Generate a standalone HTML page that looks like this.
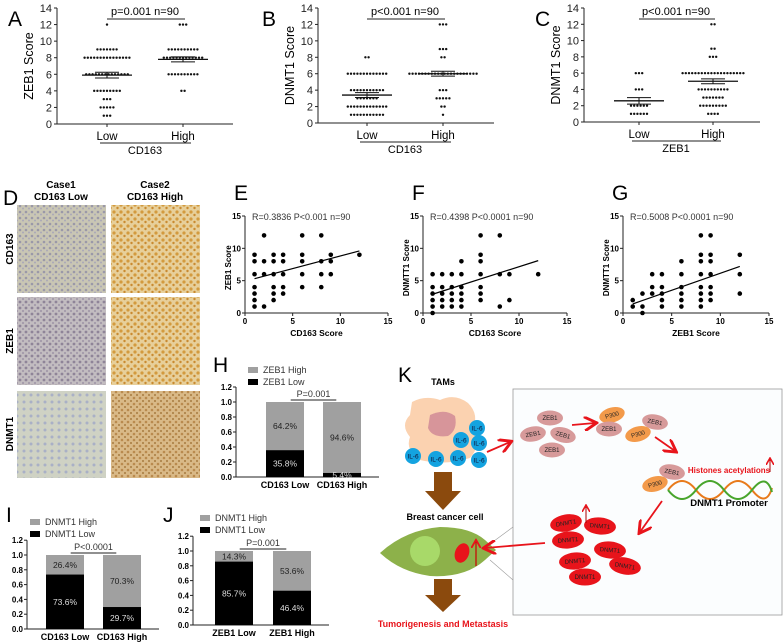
<!DOCTYPE html>
<html><head><meta charset="utf-8"><style>
body{margin:0;background:#fff}
svg{display:block;font-family:"Liberation Sans",Arial,sans-serif}
</style></head><body>
<svg id="fig" width="784" height="643" viewBox="0 0 784 643" xmlns="http://www.w3.org/2000/svg">
<defs>
<pattern id="pl" width="6" height="6" patternUnits="userSpaceOnUse"><rect width="6" height="6" fill="#c9c6b4"/><circle cx="2" cy="2" r="1.3" fill="#9a98a8"/><circle cx="5" cy="4.5" r="1" fill="#aaa8b8"/></pattern>
<pattern id="ph" width="7" height="7" patternUnits="userSpaceOnUse"><rect width="7" height="7" fill="#e7cf9a"/><circle cx="2" cy="2" r="1.6" fill="#d39a3e"/><circle cx="5.5" cy="5" r="1.2" fill="#c98a30"/></pattern>
<pattern id="pz" width="6" height="6" patternUnits="userSpaceOnUse"><rect width="6" height="6" fill="#c2bcc0"/><circle cx="2" cy="2" r="1.4" fill="#8f8498"/><circle cx="5" cy="5" r="1" fill="#9d93a5"/></pattern>
<pattern id="pb" width="7" height="7" patternUnits="userSpaceOnUse"><rect width="7" height="7" fill="#cfd2c4"/><circle cx="3" cy="3" r="1.5" fill="#a9b0c6"/></pattern>
<pattern id="pd" width="6" height="6" patternUnits="userSpaceOnUse"><rect width="6" height="6" fill="#d9b987"/><circle cx="2" cy="2" r="1.3" fill="#b98a4e"/><circle cx="5" cy="5" r="1" fill="#a77a40"/></pattern>
<marker id="ar" markerWidth="8" markerHeight="8" refX="6" refY="4" orient="auto"><path d="M0,0 L7,4 L0,8" fill="none" stroke="#e8141b" stroke-width="1.6"/></marker>
</defs>
<g id="charts"></g>
<g>
<text x="3" y="205" font-size="21">D</text>
<text x="61" y="188" font-size="10" font-weight="bold" text-anchor="middle">Case1</text>
<text x="61" y="200" font-size="10" font-weight="bold" text-anchor="middle">CD163 Low</text>
<text x="155" y="188" font-size="10" font-weight="bold" text-anchor="middle">Case2</text>
<text x="155" y="200" font-size="10" font-weight="bold" text-anchor="middle">CD163 High</text>
<rect x="17" y="205" width="89" height="88" fill="url(#pl)"/>
<rect x="111" y="205" width="89" height="88" fill="url(#ph)"/>
<rect x="17" y="297" width="89" height="88" fill="url(#pz)"/>
<rect x="111" y="297" width="89" height="88" fill="url(#ph)"/>
<rect x="17" y="391" width="89" height="87" fill="url(#pb)"/>
<rect x="111" y="391" width="89" height="87" fill="url(#pd)"/>
<text transform="translate(13,249) rotate(-90)" font-size="10" font-weight="bold" text-anchor="middle">CD163</text>
<text transform="translate(13,341) rotate(-90)" font-size="10" font-weight="bold" text-anchor="middle">ZEB1</text>
<text transform="translate(13,434) rotate(-90)" font-size="10" font-weight="bold" text-anchor="middle">DNMT1</text>
</g>
<g>
<text x="398" y="382" font-size="21">K</text>
<text x="443" y="385" font-size="9" font-weight="bold" text-anchor="middle">TAMs</text>
<path d="M412,402 Q425,395 440,400 Q455,393 468,403 Q480,415 472,430 Q482,445 470,458 Q445,466 420,460 Q405,450 410,437 Q400,425 410,415 Z" fill="#fbd2b0"/>
<path d="M430,415 Q445,408 455,416 Q458,430 448,436 Q432,438 428,428 Z" fill="#d7959a"/>
<g id="il6" fill="#14a3e0"></g>
<path d="M434,472 H452 V491 H461 L443,510 L425,491 H434 Z" fill="#8b4a0d"/>
<text x="445" y="520" font-size="9" font-weight="bold" text-anchor="middle">Breast cancer cell</text>
<path d="M380,553 Q405,530 440,527 Q470,527 485,540 L496,550 L485,560 Q465,578 430,576 Q400,572 380,553 Z" fill="#8db14a"/>
<circle cx="425" cy="551" r="15" fill="#a8d969"/>
<ellipse cx="462" cy="553" rx="7" ry="10" fill="#e8141b" transform="rotate(20 462 553)"/>
<line x1="476" y1="566" x2="476" y2="541" stroke="#c00" stroke-width="1.2" marker-end="url(#ar)"/>
<path d="M434,579 H452 V595 H461 L443,612 L425,595 H434 Z" fill="#8b4a0d"/>
<text x="443" y="627" font-size="9" font-weight="bold" fill="#e8141b" text-anchor="middle">Tumorigenesis and Metastasis</text>
<rect x="513" y="389" width="269" height="226" fill="#fbfdfe" stroke="#999" stroke-width="0.8"/>
<line x1="490" y1="544" x2="513" y2="527" stroke="#999" stroke-width="0.6"/>
<line x1="490" y1="560" x2="513" y2="580" stroke="#999" stroke-width="0.6"/>
<line x1="487" y1="452" x2="510" y2="442" stroke="#e8141b" stroke-width="1.8" marker-end="url(#ar)"/>
<g id="kmol" font-size="6"></g>
<line x1="572" y1="425" x2="595" y2="423" stroke="#e8141b" stroke-width="1.8" marker-end="url(#ar)"/>
<line x1="655" y1="437" x2="675" y2="451" stroke="#e8141b" stroke-width="1.8" marker-end="url(#ar)"/>
<line x1="662" y1="501" x2="640" y2="532" stroke="#e8141b" stroke-width="1.8" marker-end="url(#ar)"/>
<line x1="545" y1="543" x2="485" y2="548" stroke="#e8141b" stroke-width="1.8" marker-end="url(#ar)"/>
<line x1="586" y1="523" x2="586" y2="506" stroke="#a00" stroke-width="1" marker-end="url(#ar)"/>
<line x1="770" y1="472" x2="770" y2="459" stroke="#a00" stroke-width="1" marker-end="url(#ar)"/>
<g>
<path d="M668,490 Q682,472 696,490 T724,490 T752,490 T772,488" fill="none" stroke="#e87a1b" stroke-width="2"/>
<path d="M668,490 Q682,508 696,490 T724,490 T752,490 T772,492" fill="none" stroke="#48a52c" stroke-width="2"/>
</g>
<text x="729" y="473" font-size="8" font-weight="bold" fill="#e8141b" text-anchor="middle">Histones acetylations</text>
<text x="729" y="506" font-size="9.5" font-weight="bold" text-anchor="middle">DNMT1 Promoter</text>
</g>
</svg>
<script>
// ---------- data ----------
var dotLevels = [12,9,8,6,4,3,2,1];
var aLowCounts = [1,7,15,14,9,3,5,3];
var aHighCounts = [3,10,13,10,2,0,0,0];
var bLowCounts = [0,0,2,13,11,7,13,11];
var bHighCounts = [3,3,2,22,3,5,2,1];
var cLowCounts = [0,0,0,3,3,0,6,6];
var cHighCounts = [2,2,3,20,10,7,9,4];
var abcMeans = [[5.9,7.8],[3.4,6.0],[2.6,5.0]];
var abcSem = [[0.35,0.3],[0.3,0.3],[0.4,0.3]];
var yTicksABC = [0,2,4,6,8,10,12,14];
var eX = [1,1,1,1,1,1,1,2,2,2,2,3,3,3,3,3,3,4,4,4,4,4,6,6,6,6,6,8,8,8,8,9,9,9,12];
var eY = [9,8,6,4,3,2,1,12,8,6,1,9,8,6,4,3,2,9,8,6,4,3,12,9,8,6,4,12,8,6,4,9,8,6,9];
var fX = [1,1,1,1,1,1,2,2,2,2,2,3,3,3,3,3,4,4,4,4,4,4,6,6,6,6,6,6,6,8,8,8,9,9,12];
var fY = [6,4,3,2,1,0,6,4,3,2,1,6,4,3,2,1,8,6,4,3,2,1,12,9,8,6,4,3,2,12,6,1,6,2,6];
var gX = [1,1,2,2,2,3,3,3,4,4,4,4,4,6,6,6,6,6,6,8,8,8,8,8,8,8,8,9,9,9,9,9,9,9,12,12,12];
var gY = [2,1,3,1,0,6,4,3,6,4,3,2,1,8,6,4,3,2,1,12,9,8,6,4,3,2,1,12,9,8,6,4,3,2,9,6,3];
var fitLines = [[1,5.3,12,9.6],[1,2.9,12,8.1],[1,1.4,12,7.2]];
var scatterTicks = [0,5,10,15];
var hLow = [0.358,0.054]; var iLow = [0.736,0.297]; var jLow = [0.857,0.464];
var hLabels = ["35.8%","5.4%","64.2%","94.6%"];
var iLabels = ["73.6%","29.7%","26.4%","70.3%"];
var jLabels = ["85.7%","46.4%","14.3%","53.6%"];
var barTicks = ["0.0","0.2","0.4","0.6","0.8","1.0","1.2"];

var NS="http://www.w3.org/2000/svg";
var root=document.getElementById('charts');
function mk(t,a,p){var e=document.createElementNS(NS,t);for(var k in a)e.setAttribute(k,a[k]);(p||root).appendChild(e);return e;}
function tx(x,y,s,sz,o,p){var a={x:x,y:y,'font-size':sz};if(o){for(var k in o)a[k]=o[k];}var e=mk('text',a,p);e.textContent=s;return e;}

function dotPlot(o){
  var g=mk('g',{});
  
  
  var y=function(v){return o.y0-(v/14)*(o.y0-o.y14);};
  tx(o.lx,26,o.letter,21,{},g);
  mk('line',{x1:o.ax,y1:o.y14,x2:o.ax,y2:o.y0,stroke:'#222','stroke-width':1},g);
  mk('line',{x1:o.ax,y1:o.y0,x2:o.ax+176,y2:o.y0,stroke:'#222','stroke-width':1},g);
  yTicksABC.forEach(function(t){
    mk('line',{x1:o.ax-3,y1:y(t),x2:o.ax,y2:y(t),stroke:'#222'},g);
    tx(o.ax-5,y(t)+4,String(t),11,{'text-anchor':'end',fill:'#222'},g);
  });
  var t=tx(0,0,o.ytitle,12.5,{'text-anchor':'middle',transform:'translate('+(o.ax-24)+','+y(7)+') rotate(-90)'},g);
  
  
  [o.low,o.high].forEach(function(counts,gi){
    var cx=o.cx[gi];
    mk('line',{x1:cx,y1:o.y0,x2:cx,y2:o.y0+3,stroke:'#222'},g);
    counts.forEach(function(n,li){
      for(var i=0;i<n;i++){
        var dx=cx+(i-(n-1)/2)*3.2;
        var c=mk('circle',{cx:dx,cy:y(dotLevels[li]),r:1.2,fill:'#111'},g);
        
        
      }
    });
    var m=o.means[gi], s=o.sem[gi];
    var ml=mk('line',{x1:cx-25,y1:y(m),x2:cx+25,y2:y(m),stroke:'#111','stroke-width':1.3},g);
    
    
    mk('line',{x1:cx,y1:y(m+s),x2:cx,y2:y(m-s),stroke:'#111'},g);
    mk('line',{x1:cx-12,y1:y(m+s),x2:cx+12,y2:y(m+s),stroke:'#111'},g);
    mk('line',{x1:cx-12,y1:y(m-s),x2:cx+12,y2:y(m-s),stroke:'#111'},g);
    tx(cx,o.y0+16,gi?'High':'Low',11.5,{'text-anchor':'middle'},g);
  });
  mk('line',{x1:o.cx[0]-7,y1:o.y0+19,x2:o.cx[1]+8,y2:o.y0+19,stroke:'#222'},g);
  tx((o.cx[0]+o.cx[1])/2,o.y0+30,o.xtitle,11,{'text-anchor':'middle'},g);
  mk('line',{x1:o.cx[0],y1:19,x2:o.cx[1]+2,y2:19,stroke:'#222'},g);
  tx((o.cx[0]+o.cx[1])/2,15,o.p,11,{'text-anchor':'middle'},g);
}
dotPlot({name:'panel-a',letter:'A',lx:8,ax:57,y0:124,y14:8,cx:[107,183],low:aLowCounts,high:aHighCounts,means:abcMeans[0],sem:abcSem[0],ytitle:'ZEB1 Score',xtitle:'CD163',p:'p=0.001  n=90'});
dotPlot({name:'panel-b',letter:'B',lx:262,ax:318,y0:123,y14:8,cx:[367,443],low:bLowCounts,high:bHighCounts,means:abcMeans[1],sem:abcSem[1],ytitle:'DNMT1 Score',xtitle:'CD163',p:'p<0.001  n=90'});
dotPlot({name:'panel-c',letter:'C',lx:535,ax:584,y0:122,y14:8,cx:[639,713],low:cLowCounts,high:cHighCounts,means:abcMeans[2],sem:abcSem[2],ytitle:'DNMT1  Score',xtitle:'ZEB1',p:'p<0.001  n=90'});

function scatter(o){
  var g=mk('g',{});
  
  
  var sx=function(v){return o.x0+v/15*(o.x15-o.x0);};
  var sy=function(v){return 313-v/15*(313-216);};
  tx(o.x0-11,200,o.letter,21,{},g);
  mk('line',{x1:o.x0,y1:216,x2:o.x0,y2:313,stroke:'#222'},g);
  mk('line',{x1:o.x0,y1:313,x2:o.x15,y2:313,stroke:'#222'},g);
  scatterTicks.forEach(function(t){
    mk('line',{x1:o.x0-3,y1:sy(t),x2:o.x0,y2:sy(t),stroke:'#222'},g);
    tx(o.x0-4,sy(t)+3,String(t),8,{'text-anchor':'end','font-weight':'bold'},g);
    mk('line',{x1:sx(t),y1:313,x2:sx(t),y2:316,stroke:'#222'},g);
    tx(sx(t),324,String(t),8,{'text-anchor':'middle','font-weight':'bold'},g);
  });
  tx(o.x0+7,220,o.stat,9,{fill:'#333'},g);
  tx((o.x0+o.x15)/2,336,o.xt,8.5,{'text-anchor':'middle','font-weight':'bold'},g);
  tx(0,0,o.yt,8,{'text-anchor':'middle','font-weight':'bold',transform:'translate('+(o.x0-14)+','+sy(7)+') rotate(-90)'},g);
  o.xs.forEach(function(v,i){
    var c=mk('circle',{cx:sx(v),cy:sy(o.ys[i]),r:2.3,fill:'#000'},g);
    
    
  });
  var f=o.fit;
  var l=mk('line',{x1:sx(f[0]),y1:sy(f[1]),x2:sx(f[2]),y2:sy(f[3]),stroke:'#000','stroke-width':1.2},g);
  
  
}
scatter({name:'panel-e',letter:'E',x0:245,x15:388,xs:eX,ys:eY,fit:fitLines[0],stat:'R=0.3836  P<0.001  n=90',xt:'CD163 Score',yt:'ZEB1 Score'});
scatter({name:'panel-f',letter:'F',x0:423,x15:567,xs:fX,ys:fY,fit:fitLines[1],stat:'R=0.4398  P<0.0001  n=90',xt:'CD163 Score',yt:'DNMTT1 Score'});
scatter({name:'panel-g',letter:'G',x0:623,x15:769,xs:gX,ys:gY,fit:fitLines[2],stat:'R=0.5008  P<0.0001  n=90',xt:'ZEB1 Score',yt:'DNMTT1 Score'});

function bars(o){
  var g=mk('g',{});
  
  
  var sy=function(v){return o.y0-v*o.k;};
  tx(o.lx,o.ly,o.letter,21,{},g);
  mk('line',{x1:o.ax,y1:sy(1.2),x2:o.ax,y2:o.y0,stroke:'#222'},g);
  mk('line',{x1:o.ax,y1:o.y0,x2:o.bx[1]+o.bw+18,y2:o.y0,stroke:'#222'},g);
  barTicks.forEach(function(t){
    var v=parseFloat(t);
    mk('line',{x1:o.ax-3,y1:sy(v),x2:o.ax,y2:sy(v),stroke:'#222'},g);
    tx(o.ax-4,sy(v)+3,t,8,{'text-anchor':'end','font-weight':'bold'},g);
  });
  mk('rect',{x:o.legx,y:o.legy-4,width:10,height:6,fill:'#a0a0a0'},g);
  tx(o.legx+15,o.legy+2,o.leg[0],9,{fill:'#333'},g);
  mk('rect',{x:o.legx,y:o.legy+8,width:10,height:6,fill:'#000'},g);
  tx(o.legx+15,o.legy+14,o.leg[1],9,{fill:'#333'},g);
  o.low.forEach(function(v,i){
    var x=o.bx[i];
    var r1=mk('rect',{x:x,y:sy(1),width:o.bw,height:(1-v)*o.k,fill:'#a0a0a0'},g);
    
    
    var r2=mk('rect',{x:x,y:sy(v),width:o.bw,height:v*o.k,fill:'#000'},g);
    
    
    tx(x+o.bw/2,sy(v/2)+3,o.lab[i],8.5,{'text-anchor':'middle',fill:'#ddd'},g);
    tx(x+o.bw/2,sy((1+v)/2)+3,o.lab[i+2],8.5,{'text-anchor':'middle',fill:'#222'},g);
    tx(x+o.bw/2,o.y0+11,o.cats[i],9,{'text-anchor':'middle','font-weight':'bold'},g);
  });
  var bl=o.bx[0]+o.bw*0.65, br=o.bx[1]+o.bw*0.35;
  mk('line',{x1:bl,y1:sy(1)-2,x2:br,y2:sy(1)-2,stroke:'#222'},g);
  tx((bl+br)/2,sy(1)-5,o.p,9,{'text-anchor':'middle',fill:'#333'},g);
}
bars({name:'panel-h',letter:'H',lx:213,ly:372,ax:236,y0:477,k:75,bx:[266,323],bw:38,low:hLow,lab:hLabels,cats:['CD163 Low','CD163 High'],leg:['ZEB1 High','ZEB1 Low'],legx:248,legy:371,p:'P=0.001'});
bars({name:'panel-i',letter:'I',lx:6,ly:522,ax:27,y0:629,k:74,bx:[46,103],bw:38,low:iLow,lab:iLabels,cats:['CD163 Low','CD163 High'],leg:['DNMT1 High','DNMT1 Low'],legx:30,legy:523,p:'P<0.0001'});
bars({name:'panel-j',letter:'J',lx:163,ly:522,ax:193,y0:625,k:74,bx:[215,273],bw:38,low:jLow,lab:jLabels,cats:['ZEB1 Low','ZEB1 High'],leg:['DNMT1 High','DNMT1 Low'],legx:200,legy:519,p:'P=0.001'});

var il=document.getElementById('il6');
[[477,428],[461,440],[479,443],[413,456],[436,459],[458,458],[479,460]].forEach(function(p){
  var c=mk('circle',{cx:p[0],cy:p[1],r:8},il);
  
  
  tx(p[0],p[1]+2.5,'IL-6',6.5,{'text-anchor':'middle',fill:'#113'},il);
});
var km=document.getElementById('kmol');
function mol(x,y,t,col,rot,rx,ry){
  var e=mk('ellipse',{cx:x,cy:y,rx:rx||13,ry:ry||7.5,fill:col,transform:'rotate('+rot+' '+x+' '+y+')'},km);
  
  
  tx(x,y+2,t,6,{'text-anchor':'middle',fill:'#222',transform:'rotate('+rot+' '+x+' '+y+')'},km);
}
mol(550,418,'ZEB1','#d79a9a',0);mol(533,434,'ZEB1','#d79a9a',-10);mol(563,435,'ZEB1','#d79a9a',15);mol(552,450,'ZEB1','#d79a9a',0);
mol(612,415,'P300','#f39a4a',-15);mol(609,429,'ZEB1','#d79a9a',0);mol(655,422,'ZEB1','#d79a9a',10);mol(638,434,'P300','#f39a4a',-15);
mol(655,484,'P300','#f39a4a',-15);mol(672,472,'ZEB1','#d79a9a',10);
[[566,523,-10],[600,526,5],[568,540,-5],[610,550,5],[575,561,-5],[625,566,10],[585,577,0]].forEach(function(p){mol(p[0],p[1],'DNMT1','#e8141b',p[2],16,8.5);});
</script>
</body></html>
